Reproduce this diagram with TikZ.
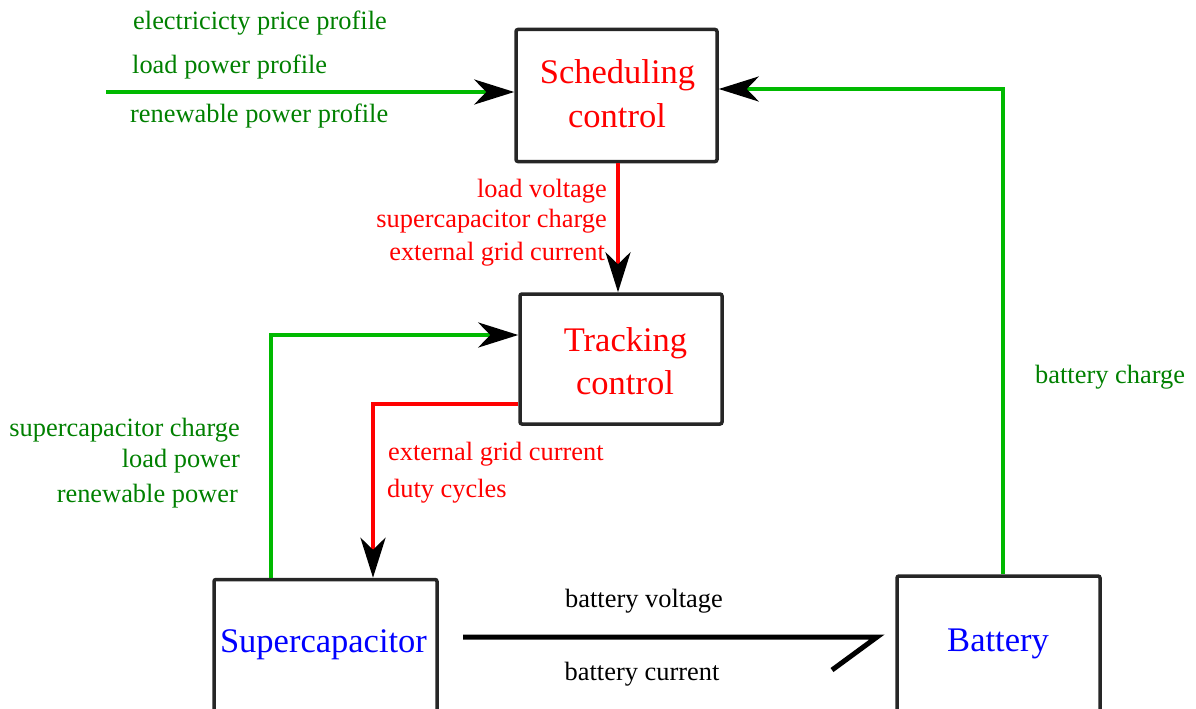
\documentclass[tikz,border=0pt]{standalone}
\usepackage{fontspec}
\setmainfont{Liberation Serif}
\usetikzlibrary{arrows.meta}
\definecolor{lgreen}{RGB}{0,185,0}
\definecolor{tgreen}{RGB}{0,128,0}
\begin{document}
\begin{tikzpicture}[x=1pt,y=-1pt,
  box/.style={draw=black!85,line width=3.5pt,rounded corners=2pt,fill=white,inner sep=0pt},
  big/.style={font=\fontsize{34.5}{44}\selectfont,inner sep=0pt},
  small/.style={font=\fontsize{26.4}{30}\selectfont,inner sep=0pt},
  gline/.style={draw=lgreen,line width=4pt},
  rline/.style={draw=red,line width=4.5pt},
  bline/.style={draw=black,line width=5pt},
  tip/.style={-{Stealth[length=40pt,width=25pt,inset=12pt,color=black]}}
]
\useasboundingbox (0,0) rectangle (1196,709);
\clip (0,0) rectangle (1196,709);

% boxes
\node[box,minimum width=201pt,minimum height=132pt] (sched) at (616.5,95.5) {};
\node[box,minimum width=202pt,minimum height=130pt] (track) at (621,359) {};
\node[box,minimum width=223pt,minimum height=200pt] (sup) at (325.5,679.5) {};
\node[box,minimum width=203pt,minimum height=204pt] (batt) at (998.5,678) {};

% box texts
\node[big,text=red,anchor=base] (schedA) at (617.5,84) {Scheduling};
\node[big,text=red,anchor=base] (schedB) at (617,127) {control};
\node[big,text=red,anchor=base] (trackA) at (625.5,351) {Tracking};
\node[big,text=red,anchor=base] (trackB) at (625,394) {control};
\node[big,text=blue,anchor=base] (supT) at (323.5,652) {Supercapacitor};
\node[big,text=blue,anchor=base] (battT) at (998,651) {Battery};

% connectors
\coordinate (in1) at (106,92);
\draw[gline,tip] (in1) -- (in1 -| sched.west);
\coordinate (r1) at (1003,89);
\draw[gline,tip] (r1 |- batt.north) -- (r1) -- (r1 -| sched.east);
\coordinate (d1) at (618,0);
\draw[rline,tip] (d1 |- sched.south) -- (d1 |- track.north);
\coordinate (g1) at (271,335);
\draw[gline,tip] (g1 |- sup.north) -- (g1) -- (g1 -| track.west);
\coordinate (r2) at (373,404);
\draw[rline,tip] (r2 -| track.west) -- (r2) -- (r2 |- sup.north);
\coordinate (b1) at (463,637);
\coordinate (b2) at (877,637);
\coordinate (b3) at (832,670);
\draw[bline] (b1) -- (b2) -- (b3);

% labels
\node[small,text=tgreen,anchor=base west] (l1) at (133,30) {electricicty price profile};
\node[small,text=tgreen,anchor=base west] (l2) at (132,74) {load power profile};
\node[small,text=tgreen,anchor=base west] (l3) at (130,122) {renewable power profile};
\node[small,text=red,anchor=base east] (l4) at (607,197) {load voltage};
\node[small,text=red,anchor=base east] (l5) at (607,227) {supercapacitor charge};
\node[small,text=red,anchor=base east] (l6) at (605,260) {external grid current};
\node[small,text=tgreen,anchor=base east] (l7) at (240,436) {supercapacitor charge};
\node[small,text=tgreen,anchor=base east] (l8) at (240,467) {load power};
\node[small,text=tgreen,anchor=base east] (l9) at (238,502) {renewable power};
\node[small,text=red,anchor=base west] (l10) at (388,460) {external grid current};
\node[small,text=red,anchor=base west] (l11) at (387,497) {duty cycles};
\node[small,text=tgreen,anchor=base west] (l12) at (1035,383) {battery charge};
\node[small,anchor=base] (l13) at (644,607) {battery voltage};
\node[small,anchor=base] (l14) at (642,680) {battery current};
\end{tikzpicture}
\end{document}
